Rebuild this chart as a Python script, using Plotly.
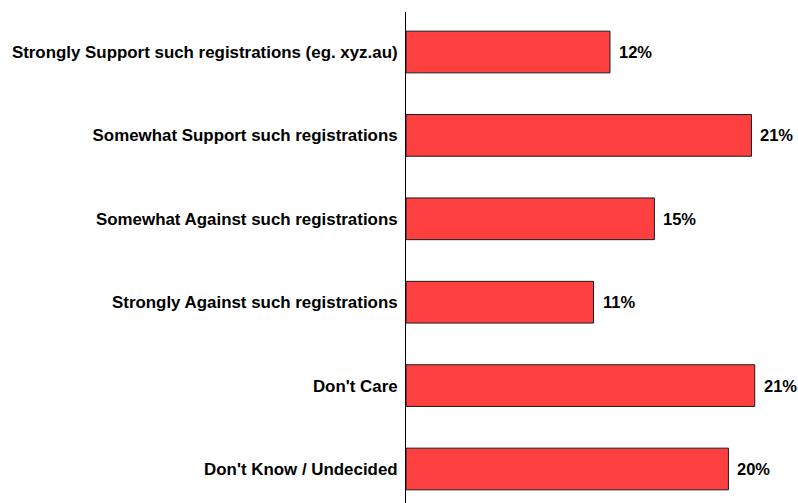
import plotly.graph_objects as go

categories = [
    "Strongly Support such registrations (eg. xyz.au)",
    "Somewhat Support such registrations",
    "Somewhat Against such registrations",
    "Strongly Against such registrations",
    "Don't Care",
    "Don't Know / Undecided",
]
values = [12.4, 21.0, 15.1, 11.4, 21.2, 19.6]
labels = ["12%", "21%", "15%", "11%", "21%", "20%"]

FONT = "Arial, Liberation Sans, sans-serif"

fig = go.Figure()
fig.add_trace(go.Bar(
    x=values, y=categories, orientation="h",
    marker=dict(color="#FF4040", line=dict(color="#1a1a1a", width=1)),
    width=0.5, hoverinfo="skip",
))

for v, c, t in zip(values, categories, labels):
    fig.add_annotation(x=v, y=c, text="<b>" + t + "</b>", showarrow=False, xanchor="left",
                       xshift=7, font=dict(family=FONT, size=16.5, color="black"))

fig.update_layout(
    width=798, height=503,
    margin=dict(l=406, r=0, t=12, b=0),
    paper_bgcolor="white", plot_bgcolor="white",
    showlegend=False,
    font=dict(family=FONT, size=16.9, color="black"),
    xaxis=dict(range=[0, 392 / 16.45], showgrid=False, zeroline=False,
               showline=False, showticklabels=False, ticks=""),
    yaxis=dict(type="category", range=[5 + (503 - 469) / 83.4, -(52 - 12) / 83.4],
               showline=True, linecolor="black", linewidth=1, showgrid=False,
               ticks="outside", ticklen=4, tickcolor="rgba(0,0,0,0)",
               tickprefix="<b>", ticksuffix="</b>",
               tickfont=dict(family=FONT, size=16.9, color="black")),
)

fig.write_html("out.html", config={"displayModeBar": False},
               post_script="document.body.style.margin='0';document.body.style.overflow='hidden';")
